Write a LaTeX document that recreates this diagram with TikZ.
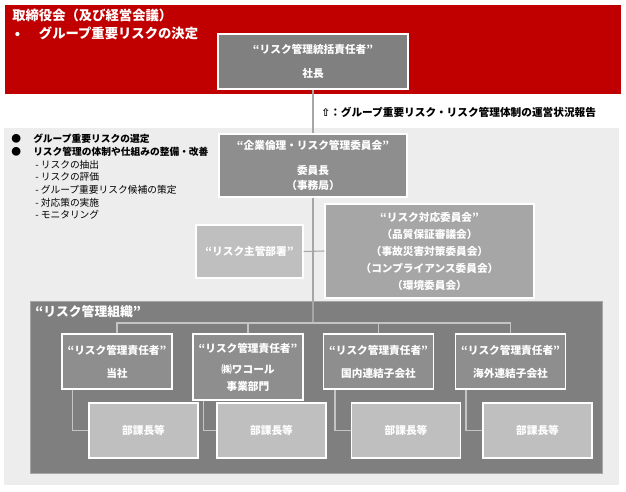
\documentclass[tikz,border=0pt]{standalone}
\usepackage{fontspec}
\setmainfont{Noto Sans CJK JP}
\newfontfamily\symfont{DejaVu Sans}
\definecolor{wred}{HTML}{C00000}
\definecolor{bgpale}{HTML}{EDEDED}
\definecolor{gA}{HTML}{808080}
\definecolor{gB}{HTML}{8E8E8E}
\definecolor{gC}{HTML}{A6A6A6}
\definecolor{gD}{HTML}{BFBFBF}
\definecolor{gOrg}{HTML}{7F7F7F}
\definecolor{lnA}{HTML}{A6A6A6}
\definecolor{lnB}{HTML}{C4C4C4}
\begin{document}
\begin{tikzpicture}[x=0.75pt,y=-0.75pt,
  box/.style={draw=white, line width=0.9pt, text=white, align=center, inner sep=0pt,
    font=\bfseries\fontsize{8}{11.25}\selectfont},
  wh/.style 2 args={minimum width=#1*0.75pt, minimum height=#2*0.75pt},
  conA/.style={draw=lnA, line width=0.8pt},
  conB/.style={draw=lnB, line width=1.1pt}]
\useasboundingbox (0,0) rectangle (626,492);
% backgrounds
\fill[wred] (5,5) rectangle (621,94);
\fill[bgpale] (4,128) rectangle (619,485);
% title
\node[anchor=west, align=left, inner sep=0pt, text=white,
  font=\bfseries\fontsize{10}{13.5}\selectfont] (title) at (12,24)
  {取締役会（及び経営会議）\\\makebox[20pt][l]{\hspace{2pt}•}グループ重要リスクの決定};
% report note
\node[anchor=west, inner sep=0pt, font=\bfseries\fontsize{8}{10}\selectfont] (rep) at (321,112)
  {{\symfont ⇧}：グループ重要リスク・リスク管理体制の運営状況報告};
% left list
\node[anchor=west, align=left, inner sep=0pt, font=\fontsize{7.3}{9.5}\selectfont] (list) at (11,177)
  {\makebox[16.5pt][l]{●}\textbf{グループ重要リスクの選定}\\
   \makebox[16.5pt][l]{●}\textbf{リスク管理の体制や仕組みの整備・改善}\\
   \hspace{18pt}- リスクの抽出\\
   \hspace{18pt}- リスクの評価\\
   \hspace{18pt}- グループ重要リスク候補の策定\\
   \hspace{18pt}- 対応策の実施\\
   \hspace{18pt}- モニタリング};
% org background
\node[draw=gC, line width=0.6pt, fill=gOrg, wh={572}{172}, inner sep=0pt] (org) at (316,387) {};
\node[anchor=west, inner sep=0pt, text=white, font=\bfseries\fontsize{9.6}{11}\selectfont] (orglabel) at (35,312)
  {“リスク管理組織”};
% boxes
\node[box, fill=gA, wh={190}{55}] (ceo) at (313,61.5)
  {“リスク管理統括責任者”\\[6.75pt]社長};
\node[box, fill=gB, wh={188}{63}] (cmt) at (313,165.5)
  {“企業倫理・リスク管理委員会”\\[7.5pt]委員長\\（事務局）};
\node[box, fill=gD, wh={107}{53}] (dept) at (249.5,251.5) {“リスク主管部署”};
\node[box, fill=gC, wh={209}{94}, font=\bfseries\fontsize{8}{12.75}\selectfont] (resp) at (429.5,251)
  {“リスク対応委員会”\\（品質保証審議会）\\（事故災害対策委員会）\\（コンプライアンス委員会）\\（環境委員会）};
\node[box, fill=gB, wh={110}{55}] (c1) at (117,361.5) {“リスク管理責任者”\\[6pt]当社};
\node[box, fill=gB, wh={110}{66}, font=\bfseries\fontsize{8}{12.75}\selectfont] (c2) at (248,367)
  {“リスク管理責任者”\\[3pt]㈱ワコール\\事業部門};
\node[box, fill=gB, wh={110}{55}] (c3) at (378.5,361.5) {“リスク管理責任者”\\[6pt]国内連結子会社};
\node[box, fill=gB, wh={110}{55}] (c4) at (510.5,361.5) {“リスク管理責任者”\\[6pt]海外連結子会社};
\node[box, fill=gD, wh={109}{55}] (m1) at (143.5,430.5) {部課長等};
\node[box, fill=gD, wh={109}{55}] (m2) at (271.5,430.5) {部課長等};
\node[box, fill=gD, wh={109}{55}] (m3) at (406,430.5) {部課長等};
\node[box, fill=gD, wh={109}{55}] (m4) at (537.5,430.5) {部課長等};
\coordinate (bus) at (313,323);
% connectors
\draw[conA] (ceo.south) -- (cmt.north);
\draw[conA] (dept.east) -- (resp.west);
\draw[conA] (cmt.south) -- (bus);
\draw[conB] (c1.north) |- (bus) -| (c4.north);
\draw[conB] (c2.north) |- (bus);
\draw[conB] (c3.north) |- (bus);
\draw[conB] ([xshift=8.25pt]c1.south west) |- (m1.west);
\draw[conB] ([xshift=8.25pt]c2.south west) |- (m2.west);
\draw[conB] ([xshift=9pt]c3.south west) |- (m3.west);
\draw[conB] ([xshift=8.25pt]c4.south west) |- (m4.west);
\end{tikzpicture}
\end{document}
